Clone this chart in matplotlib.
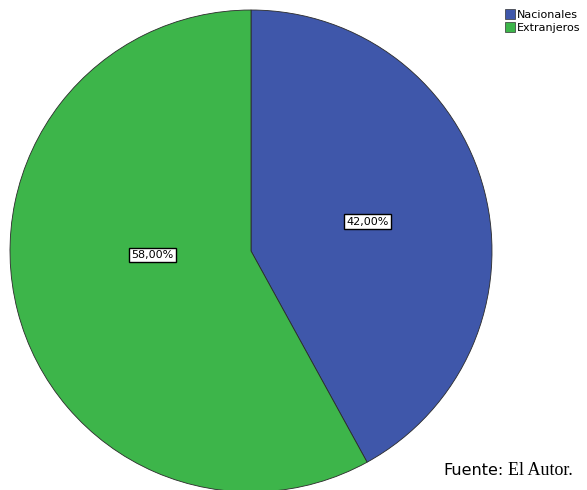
import matplotlib
matplotlib.use("Agg")
import matplotlib.pyplot as plt
from matplotlib.patches import Patch

categories = ["Nacionales", "Extranjeros"]
values = [42.0, 58.0]
colors = ["#3F57AA", "#3DB54A"]
label_pos = [(0.485, 0.122), (-0.41, -0.017)]

W, H = 587, 490
fig = plt.figure(figsize=(W / 100, H / 100), dpi=100)
cx, cy, r = 251, 251, 241
ax = fig.add_axes([(cx - r) / W, (H - cy - r) / H, 2 * r / W, 2 * r / H])
ax.pie(values, colors=colors, startangle=90, counterclock=False, radius=1,
       wedgeprops=dict(edgecolor="#2a2a2a", linewidth=0.6))
ax.set_xlim(-1, 1)
ax.set_ylim(-1, 1)
ax.set_aspect("equal")
ax.axis("off")

for v, (x, y) in zip(values, label_pos):
    ax.text(x, y, f"{v:.2f}%".replace(".", ","), ha="center", va="center",
            fontsize=8, family="DejaVu Sans",
            bbox=dict(boxstyle="square,pad=0.2", fc="white", ec="black", lw=1.0))

handles = [Patch(facecolor=c, edgecolor="#333333", linewidth=0.5) for c in colors]
fig.legend(handles, categories, loc="upper left", bbox_to_anchor=(505 / W, 1 - 9 / H),
           frameon=False, fontsize=8, handlelength=0.9, handleheight=1.0,
           handletextpad=0.15, labelspacing=0.2, borderpad=0, borderaxespad=0)

fig.text(443 / W, 1 - 470 / H, "Fuente:", fontsize=11.5, family="DejaVu Sans",
         ha="left", va="center")
fig.text(508 / W, 1 - 470 / H, "El Autor.", fontsize=13, family="Liberation Serif",
         ha="left", va="center")

fig.savefig("out.png", dpi=100)
